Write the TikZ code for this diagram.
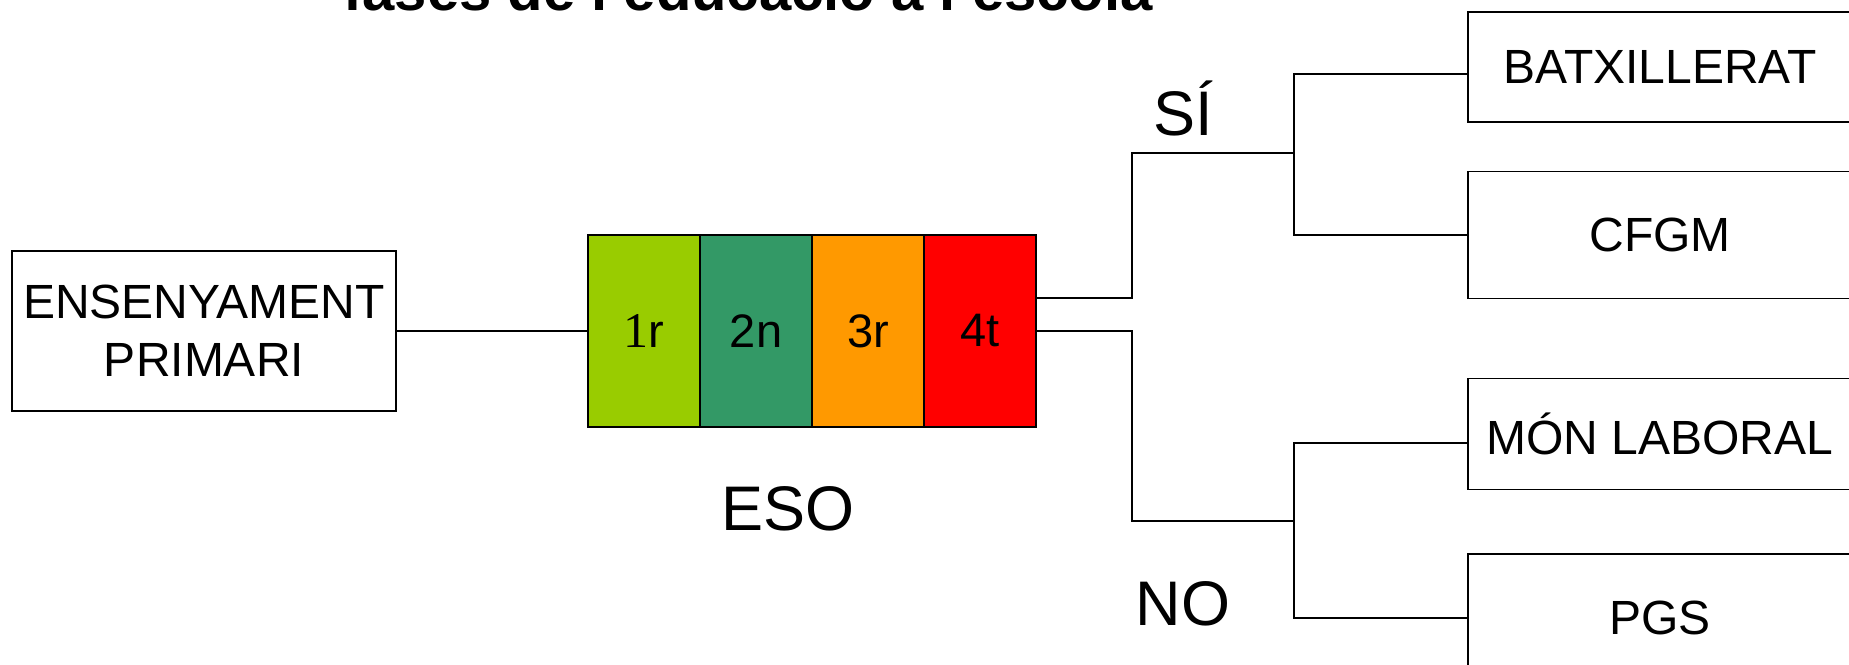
\documentclass[tikz,border=0pt]{standalone}
\usepackage{fontspec}
\setmainfont{Liberation Sans}
\newfontfamily\serifone{Liberation Serif}
\usetikzlibrary{calc}
\definecolor{cA}{HTML}{99CC00}
\definecolor{cB}{HTML}{339966}
\definecolor{cC}{HTML}{FF9900}
\definecolor{cD}{HTML}{FF0000}
\tikzset{
  box/.style={draw=black, line width=1.6pt, minimum width=384pt, inner sep=0pt, font=\fontsize{48}{58}\selectfont, align=center},
  cell/.style={draw=black, line width=1.6pt, minimum width=112pt, minimum height=192pt, inner sep=0pt, font=\fontsize{47}{56}\selectfont},
  conn/.style={line width=1.5pt},
  lbl/.style={font=\fontsize{63}{70}\selectfont, inner sep=0pt}
}
\begin{document}
\begin{tikzpicture}[x=1pt,y=-1pt]
\useasboundingbox (0,0) rectangle (1849,664);
\fill[white] (0,0) rectangle (1849,664);
\node[font=\bfseries\fontsize{58}{60}\selectfont, anchor=base] (title) at (748,10) {fases de l'educació a l'escola};
\node[box, minimum height=160pt] (prim) at (204,331) {ENSENYAMENT\\PRIMARI};
\node[cell, fill=cA] (e1) at (644,331) {{\serifone\fontsize{50}{56}\selectfont 1}r};
\node[cell, fill=cB] (e2) at (756,331) {2n};
\node[cell, fill=cC] (e3) at (868,331) {3r};
\node[cell, fill=cD] (e4) at (980,331) {4t};
\node[lbl] (eso) at (788,509) {ESO};
\node[box, minimum height=110pt] (batx) at (1660,67) {BATXILLERAT};
\node[box, minimum height=127pt] (cfgm) at (1660,235) {CFGM};
\node[box, minimum height=111pt] (mon) at (1660,434) {MÓN LABORAL};
\node[box, minimum height=128pt] (pgs) at (1660,618) {PGS};
\node[lbl] (si) at (1183,108) {SÍ};
\node[lbl] (no) at (1183,604) {NO};
\coordinate (js) at (1294,153);
\coordinate (jn) at (1294,521);
\draw[conn] (prim.east) -- (e1.west);
\draw[conn] ($(e4.east)+(0,-33)$) -| (1132,153) -- (js);
\draw[conn] (e4.east) -| (1132,521) -- (jn);
\draw[conn] (1468,74) -| (js) |- (cfgm.west);
\draw[conn] (1468,443) -| (jn) |- (pgs.west);
\end{tikzpicture}
\end{document}
